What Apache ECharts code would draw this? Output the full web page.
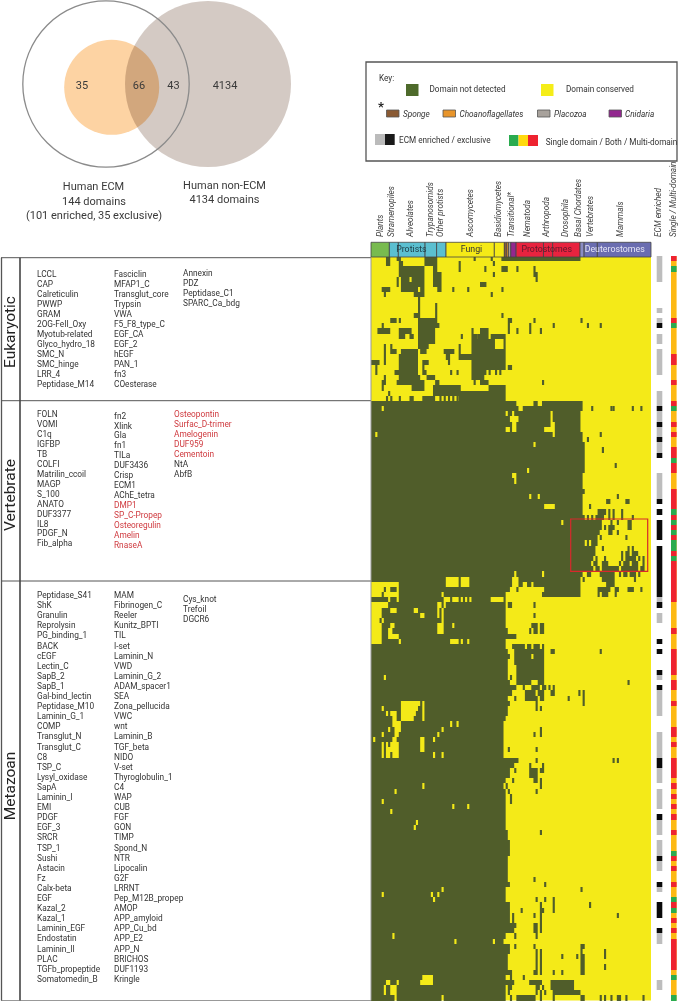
<!DOCTYPE html>
<html><head><meta charset="utf-8">
<style>html,body{margin:0;padding:0;background:#fff}#c{width:680px;height:1002px}</style>
<script src="https://cdn.jsdelivr.net/npm/echarts@6/dist/echarts.min.js"></script>
</head><body><div id="c"></div>
<script>
// ---------- data ----------
const eukaryoticNames = [
 ["LCCL","CAP","Calreticulin","PWWP","GRAM","2OG-FeII_Oxy","Myotub-related","Glyco_hydro_18","SMC_N","SMC_hinge","LRR_4","Peptidase_M14"],
 ["Fasciclin","MFAP1_C","Transglut_core","Trypsin","VWA","F5_F8_type_C","EGF_CA","EGF_2","hEGF","PAN_1","fn3","COesterase"],
 ["Annexin","PDZ","Peptidase_C1","SPARC_Ca_bdg"]];
const vertebrateNames = [
 ["FOLN","VOMI","C1q","IGFBP","TB","COLFI","Matrilin_ccoil","MAGP","S_100","ANATO","DUF3377","IL8","PDGF_N","Fib_alpha"],
 ["fn2","Xlink","Gla","fn1","TILa","DUF3436","Crisp","ECM1","AChE_tetra","DMP1","SP_C-Propep","Osteoregulin","Amelin","RnaseA"],
 ["Osteopontin","Surfac_D-trimer","Amelogenin","DUF959","Cementoin","NtA","AbfB"]];
const redNames = ["DMP1","SP_C-Propep","Osteoregulin","Amelin","RnaseA","Osteopontin","Surfac_D-trimer","Amelogenin","DUF959","Cementoin"];
const metazoanNames = [
 ["Peptidase_S41","ShK","Granulin","Reprolysin","PG_binding_1","BACK","cEGF","Lectin_C","SapB_2","SapB_1","Gal-bind_lectin","Peptidase_M10","Laminin_G_1","COMP","Transglut_N","Transglut_C","C8","TSP_C","Lysyl_oxidase","SapA","Laminin_I","EMI","PDGF","EGF_3","SRCR","TSP_1","Sushi","Astacin","Fz","Calx-beta","EGF","Kazal_2","Kazal_1","Laminin_EGF","Endostatin","Laminin_II","PLAC","TGFb_propeptide","Somatomedin_B"],
 ["MAM","Fibrinogen_C","Reeler","Kunitz_BPTI","TIL","I-set","Laminin_N","VWD","Laminin_G_2","ADAM_spacer1","SEA","Zona_pellucida","VWC","wnt","Laminin_B","TGF_beta","NIDO","V-set","Thyroglobulin_1","C4","WAP","CUB","FGF","GON","TIMP","Spond_N","NTR","Lipocalin","G2F","LRRNT","Pep_M12B_propep","AMOP","APP_amyloid","APP_Cu_bd","APP_E2","APP_N","BRICHOS","DUF1193","Kringle"],
 ["Cys_knot","Trefoil","DGCR6"]];
const taxonLabels = [["Plants",380.7],["Stramenopiles",392.3],["Alveolates",410.7],["Trypanosomids",430.7],["Other protists",441],["Ascomycetes",471],["Basidiomycetes",499.3],["Transitional*",512],["Nematoda",528],["Arthropoda",547.3],["Drosophila",565.7],["Basal Chordates",579],["Vertebrates",590.7],["Mammals",620.7],["ECM enriched",659],["Single / Multi-domain",674]];
// taxon bar: from column, to column, colour
const taxonBar = [[0,8.6,"#78bb4f"],[8.6,12.8,"#5bbfd0"],[12.8,25.3,"#5bbfd0"],[25.3,30.7,"#5bbfd0"],[30.7,35.1,"#5bbfd0"],[35.1,57.7,"#f5ea17"],[57.7,62.4,"#f5ea17"],[62.4,63.5,"#8a5a33"],[63.5,64.3,"#e8952b"],[64.3,65.4,"#a8a29c"],[65.4,67.9,"#92278f"],[67.9,80.7,"#e8233f"],[80.7,85,"#e8233f"],[85,97.8,"#e8233f"],[97.8,99.7,"#8a8cc4"],[99.7,105.9,"#6a6db0"],[105.9,131,"#6a6db0"]];
const taxonBarLabels = [["Protists",18.9,"#20404a"],["Fungi",47,"#333"],["Protostomes",82.2,"#5c1a2c"],["Deuterostomes",114,"#e6e6f5"]];

// columns where the domain was NOT detected, per row, as [from,to] or [single]
const eukaryoticRuns = [
[[7,8],[12,13],[25,30],[48],[56],[61,97]],
[[7,8],[13,14],[25,30],[41],[57]],
[[13,24],[29,30],[41],[53],[61,63],[68],[76]],
[[13,24],[29,32],[57],[76,77]],
[[12],[14,17],[19,24],[29,32],[77]],
[[12],[14,24],[29,32],[51,53]],
[[5,8],[14,21],[23,24],[31,32],[38],[45],[61]],
[[6],[20,24],[56]],
[[22]],
[[22],[30]],
[[22],[30]],
[[20,22],[30],[61]],
[[9,11],[13],[22,30],[64,65],[76],[98]],
[[5],[22,31],[64],[74],[85],[101],[107]],
[[3,8],[13,18],[22,29],[47],[51,54],[64],[68],[74],[79]],
[[13,15],[18,19],[22,29],[42],[47,49],[50,54],[56,62]],
[[22,29],[47,57],[62]],
[[6],[9],[22,26],[41],[47,57],[62]],
[[6],[9,11],[14,21],[23,25],[34,38],[41],[47,62]],
[[6],[13,21],[35,36],[41,62]],
[[0,3],[6],[13,21],[24,26],[36],[47,62]],
[[2],[13,21],[24],[47,62],[64,65]],
[[2],[11,21],[24,25],[37],[40],[47,53],[55],[58],[60]],
[[6],[13,22],[26,29],[47,52]],
[[5,6],[12,24],[30,31],[48],[51,54],[80]],
[[5],[19,24],[29,41],[55,62]],
[[8],[29,62]],
[[7],[9],[13],[18,19],[24,29],[32],[34],[36],[38],[40],[41,62]]
];
const vertebrateRuns = [
[[0,67],[76,77],[80,98]],
[[0,4],[6,68],[71,98],[103],[112],[113],[122],[126]],
[[0,62],[64,65],[67,83],[85,97]],
[[0,64],[69,83],[85,97]],
[[0,65],[68,83],[86,97]],
[[0,62],[65],[68,80],[86,97]],
[[0,1],[3,84],[86,98],[107]],
[[0,98],[101]],
[[0,75],[77,99]],
[[0,99],[108]],
[[0,99]],
[[0,99]],
[[0,99],[114]],
[[0,72],[74,99]],
[[0,65],[68,98]],
[[0,66],[68,98]],
[[0,98]],
[[0,99]],
[[0,73],[75,77],[79,98],[115]],
[[0,98],[110,111],[119,120]],
[[0,80],[86,98],[102]],
[[0,98],[106,109],[111],[113],[117]],
[[0,99],[101],[103],[105,108],[111],[113],[117],[122]],
[[0,88],[90,107],[112],[115],[120,121]],
[[0,107],[109],[111,113],[120,121]],
[[0,106],[111,112],[115]],
[[0,105],[107],[119]],
[[0,99],[101],[103,105]],
[[0,104],[108],[120],[122]],
[[0,104],[117],[119,120],[122,124]],
[[0,103],[105],[109],[117],[119,123],[125],[127]],
[[0,102],[104,105],[108,110],[116],[118,120],[122,124],[127]],
[[0,103],[105,106],[108,115],[117,124],[126,127]],
[[0,66],[68,79],[81,98],[101,102],[107,113],[116],[118,119],[121,123],[125]],
[[0,34],[41],[46,65],[69,97],[99],[108,113],[123]]
];
const metazoanRuns = [
[[13,34],[41],[46,65],[69,70],[73,74],[76,97],[110,113]],
[[6],[9,11],[13,64],[68],[81,97],[106,111],[114,115],[120,122],[126]],
[[5],[13,32],[34,62],[80,97],[106],[108,110],[114]],
[[0,7],[9,11],[13,33],[37],[41],[43],[45],[47,55],[62]],
[[8,30],[33],[35,62],[64,65],[76]],
[[5,8],[12,19],[22,30],[32],[34,62]],
[[5,22],[25,30],[32],[34,62],[76]],
[[4],[6,32],[34,62]],
[[5,8],[11,30],[34,37],[39,62],[75,77],[79,80]],
[[5,7],[10,30],[34,63],[74],[76,77],[79,80]],
[[5,7],[13,67]],
[[5,12],[14,36],[41],[43,44],[46,62]],
[[0,62],[66,71],[73,74],[76,78],[80]],
[[0,63],[67,80],[84,85],[107]],
[[0,64],[67,74],[76,80]],
[[0,63],[67,80]],
[[0,63],[68,80]],
[[0,63],[68,80]],
[[0,5],[7,63],[65],[68,80]],
[[0,64],[68,74],[78,80],[120]],
[[0,67],[71],[75,78],[80,81],[83],[85]],
[[0,65],[72,76],[78,80],[84,85],[97],[99]],
[[0,63],[67],[72,77],[79,80],[92],[99]],
[[0,13],[23],[25,64],[77],[99]],
[[0,4],[6,13],[22,23],[25,63],[77],[79]],
[[0,6],[8],[12,13],[21,23],[25,63]],
[[0,9],[12,13],[20,23],[25,62]],
[[0,9],[14,36],[38,39],[41,61]],
[[0,7],[9,10],[14,32],[34,61],[79]],
[[0,4],[6,10],[13,30],[32,61],[76],[79]],
[[0],[2,9],[12,22],[25,28],[30,61]],
[[0,4],[6],[8],[13,22],[25,61]],
[[0,4],[6],[13,22],[25,61],[64],[77]],
[[0,4],[6],[9],[13,28],[30,32],[34,61]],
[[0,68],[77],[113],[115]],
[[0,66],[74],[80]],
[[0,64],[67],[74,77],[79,80]],
[[0,64],[74,77]],
[[0,62],[66],[76,77],[79]],
[[0,23],[25,61],[63],[79]],
[[0,10],[12,62],[64],[77]],
[[0,62],[65]],
[[0,4],[6,62],[65]],
[[0,37],[39,44],[46,62]],
[[0,8],[10,62]],
[[0,62]],
[[0,20],[22,62]],
[[0,19],[21,62]],
[[0,63],[79]],
[[0,63]],
[[0,64]],
[[0,64]],
[[0,64]],
[[0,63]],
[[0,63]],
[[0,63]],
[[0,63]],
[[0,63],[76]],
[[0,64],[81]],
[[0,32],[34,62],[98]],
[[0,4],[6,27],[29,30],[32,62]],
[[0,28],[30,62],[77],[81],[85]],
[[0,64],[79],[85],[102]],
[[0,64],[70],[79,80],[85]],
[[0,64],[66],[76],[79],[115]],
[[0,64],[66],[79]],
[[0,67],[76,77],[79]],
[[0,66],[76,77],[79]],
[[0,9],[11,62],[67],[77]],
[[0,38],[40,56],[58,61]],
[[0,64],[67],[76],[98,99]],
[[0,64],[77],[79],[98],[109]],
[[0,63],[77],[79],[89],[96],[98,99],[109]],
[[0,63],[77],[79],[98,99]],
[[0,63],[77],[79],[98,99],[109]],
[[0,65],[76,77],[79],[85],[89],[98,99]],
[[0,23],[29,62],[65],[71]],
[[0,6],[9,11],[13,22],[29,66],[74,79],[84,94]],
[[0,5],[7,8],[12,62],[64,65],[77,78],[80],[84,94]],
[[0,5],[7,8],[12,62],[64],[77],[79],[81],[85,97]],
[[0,10],[12,32],[34,62],[65],[68,76],[79],[85],[98,99],[107],[109],[112],[115,116],[119],[127]]
];
// ECM status by row: [status, firstRow, lastRow]; 1 enriched, 2 exclusive, other rows not enriched
const ecmStatus = [[1,0,4],[1,10,10],[1,12,12],[2,13,13],[1,15,16],[1,18,21],[1,22,22],[1,26,28],[2,29,29],[1,30,31],[2,32,32],[1,33,34],[2,35,35],[1,36,37],[2,38,38],[1,42,46],[2,47,47],[2,49,49],[2,51,54],[2,56,65],[1,66,66],[2,67,67],[1,69,70],[2,74,74],[2,76,76],[2,80,80],[1,81,81],[2,83,83],[1,84,88],[1,92,96],[2,97,98],[1,99,101],[1,103,106],[2,108,108],[1,109,111],[1,113,115],[2,116,116],[1,117,118],[2,121,121],[1,122,122],[2,125,127],[2,130,130],[1,131,132],[1,140,141]];
// domain architecture by row: 1 single (green), 3 multi (red), other rows both (amber)
const domainArch = [[3,0,0],[1,2,2],[3,12,12],[1,13,13],[3,19,20],[3,24,24],[3,28,28],[1,29,29],[3,32,32],[3,34,34],[3,37,38],[1,39,39],[3,40,41],[3,45,48],[1,49,49],[3,50,50],[1,51,51],[3,52,52],[1,53,53],[3,54,54],[1,55,56],[3,57,57],[1,58,58],[3,59,66],[3,72,72],[3,76,80],[3,82,83],[3,86,86],[3,91,92],[3,94,94],[3,97,100],[3,102,102],[3,104,104],[3,106,106],[3,108,108],[3,111,111],[1,115,115],[3,116,116],[3,118,118],[3,121,121],[1,124,124],[3,125,125],[1,126,126],[3,128,128],[3,130,130],[3,132,137],[1,139,139],[1,143,143]];
const vennCounts = ["35","66","43","4134"];

// ---------- build ----------
const COLS = 131, ROWS = 144;
const DARK="#505d2a", YEL="#f4ea18", GRAY="#bdbdbd", BLK="#0a0a0a", GRN="#2aab4f", AMB="#fdb913", RED="#ee2330";
const allRuns = eukaryoticRuns.concat(vertebrateRuns, metazoanRuns);
const darkCells = [];
allRuns.forEach((runs,r)=>runs.forEach(run=>darkCells.push([run[0],(run.length>1?run[1]:run[0])+1,r,r+1])));
const ecmCells = ecmStatus.map(s=>[0,1,s[1],s[2]+1,s[0]]);
const archCells = domainArch.map(s=>[0,1,s[1],s[2]+1,s[0]]);
const ecmColor={1:GRAY,2:BLK}, archColor={1:GRN,3:RED};

function cellRender(colorOf){
  return function(p,api){
    const a=api.coord([api.value(0),api.value(2)]),b=api.coord([api.value(1),api.value(3)]);
    const y0=Math.round(a[1]),y1=Math.round(b[1]);
    return {type:'rect',shape:{x:a[0],y:y0,width:b[0]-a[0],height:y1-y0},style:{fill:colorOf(api)}};
  };
}
const TOP=256.1, H=744.5;
const FONT='Roboto,"Open Sans",sans-serif';
const g=[];
function txt(x,y,s,o){o=o||{};g.push({type:'text',x:x,y:y,rotation:o.rot||0,z:o.z||50,silent:true,style:{text:s,fill:o.c||'#333',font:(o.i?'italic ':'')+(o.w?o.w+' ':'')+(o.s||9)+'px '+(o.f||FONT),align:o.a||'left',verticalAlign:'middle'}});}
let o_z=40;
function rect(x,y,w,h,fill,st,lw){g.push({type:'rect',shape:{x:x,y:y,width:w,height:h},z:o_z,silent:true,style:{fill:fill,stroke:st||null,lineWidth:lw||0}});}
function line(x1,y1,x2,y2,c,lw){g.push({type:'line',shape:{x1,y1,x2,y2},z:60,silent:true,style:{stroke:c,lineWidth:lw}});}
// Venn
g.push({type:'circle',shape:{cx:111.7,cy:87.3,r:47.5},z:10,silent:true,style:{fill:'#fdd3a3'}});
g.push({type:'circle',shape:{cx:208,cy:84,r:83},z:11,silent:true,style:{fill:'#d4cac4',blend:'multiply'}});
g.push({type:'circle',shape:{cx:106,cy:84,r:83.2},z:12,silent:true,style:{fill:'none',stroke:'#8b8b8b',lineWidth:1.3}});
[82,139,173.5,225].forEach((x,i)=>txt(x,86,vennCounts[i],{a:'center',s:11,c:'#3a3a3a'}));
txt(93.5,187,"Human ECM",{a:'center',s:11,c:'#3a3a3a'});
txt(94,202,"144 domains",{a:'center',s:11,c:'#3a3a3a'});
txt(94,216,"(101 enriched, 35 exclusive)",{a:'center',s:11,c:'#3a3a3a'});
txt(224.5,186,"Human non-ECM",{a:'center',s:11,c:'#3a3a3a'});
txt(224.5,200.5,"4134 domains",{a:'center',s:11,c:'#3a3a3a'});
// Key
rect(366,62,311,99,'#fff','#555',1.3);
txt(379,79,"Key:",{s:8.2});
rect(406,84,12.5,12,'#4e6a2b');txt(429.5,89.5,"Domain not detected",{s:8.2});
rect(541,84,12.5,12,'#f5ed18');txt(566,89.5,"Domain conserved",{s:8.2});
txt(378,108,"*",{s:13,w:'bold',c:'#222'});
[[386.5,'#8a5a33','Sponge',403],[443,'#e8952b','Choanoflagellates',459.5],[537.5,'#a8a29c','Placozoa',554],[609,'#92278f','Cnidaria',625]].forEach(k=>{rect(k[0],110,12.5,7,k[1],'#555',0.8);txt(k[3],114.5,k[2],{i:1,s:8.2});});
rect(375,134,10,11,'#bbb');rect(385,134,9.7,11,'#1a1a1a');txt(399,141,"ECM enriched / exclusive",{s:8.2});
rect(509,135,9.5,11,GRN);rect(518.5,135,9.5,11,'#ffd90f');rect(528,135,10,11,RED);txt(545.7,143,"Single domain / Both / Multi-domain",{s:8.2});
// Left frame
line(1,257.7,371,257.7,'#555',1);line(1,400.7,371,400.7,'#555',1);line(1,581,371,581,'#555',1);line(1,1000.5,371,1000.5,'#999',1);
line(1.5,257.7,1.5,1000.5,'#555',1.3);line(20,257.7,20,1000.5,'#444',1.6);
line(371,257.7,371,1000.5,'#999',1);
txt(11,332,"Eukaryotic",{rot:Math.PI/2,a:'center',s:15.5,c:'#222'});
txt(11,495,"Vertebrate",{rot:Math.PI/2,a:'center',s:15.5,c:'#222'});
txt(11,786,"Metazoan",{rot:Math.PI/2,a:'center',s:15.5,c:'#222'});
function list(names,x,y,step){names.forEach((n,i)=>txt(x,y+i*step,n,{s:8.3,c:redNames.includes(n)?'#cf3a3f':'#333'}));}
list(eukaryoticNames[0],37,275,9.95);list(eukaryoticNames[1],114,275,9.95);list(eukaryoticNames[2],183,274,9.95);
list(vertebrateNames[0],37,415,9.95);list(vertebrateNames[1],114,416.5,9.95);list(vertebrateNames[2],174,415,9.95);
list(metazoanNames[0],37,596,10.1);list(metazoanNames[1],114,596,10.1);list(metazoanNames[2],183,600,10);
taxonLabels.forEach(t=>txt(t[1],237,t[0],{rot:Math.PI/2,i:1,s:8.2,c:'#444'}));
taxonBarLabels.forEach(t=>txt(371+(t[1]/COLS)*280,250,t[0],{a:'center',s:8.8,c:t[2],z:70}));
// highlight box
g.push({type:'rect',shape:{x:570.7,y:519,width:77,height:52.3},z:65,silent:true,style:{fill:'none',stroke:'#d8282c',lineWidth:1.2}});

const valX=(max)=>({type:'value',min:0,max:max,show:false});
const option={
 animation:false,backgroundColor:'#fff',
 grid:[
  {left:371,top:TOP,width:280,height:H,show:true,backgroundColor:YEL,borderWidth:0},
  {left:656.7,top:TOP,width:5.6,height:H},
  {left:671,top:TOP,width:5.6,height:H,show:true,backgroundColor:AMB,borderWidth:0},
  {left:371,top:242.3,width:280,height:14.7}
 ],
 xAxis:[
  Object.assign(valX(COLS),{gridIndex:0}),
  Object.assign(valX(1),{gridIndex:1}),
  Object.assign(valX(1),{gridIndex:2}),
  Object.assign(valX(COLS),{gridIndex:3})
 ],
 yAxis:[
  {type:'value',gridIndex:0,min:0,max:ROWS,inverse:true,show:false},
  {type:'value',gridIndex:1,min:0,max:ROWS,inverse:true,show:false},
  {type:'value',gridIndex:2,min:0,max:ROWS,inverse:true,show:false},
  {type:'value',gridIndex:3,min:0,max:1,show:false}
 ],
 series:[
  {type:'custom',xAxisIndex:0,yAxisIndex:0,silent:true,data:darkCells,progressive:0,encode:{x:[0,1],y:[2,3]},
   renderItem:cellRender(()=>DARK)},
  {type:'custom',xAxisIndex:1,yAxisIndex:1,silent:true,data:ecmCells,progressive:0,encode:{x:[0,1],y:[2,3]},
   renderItem:cellRender(api=>ecmColor[api.value(4)])},
  {type:'custom',xAxisIndex:2,yAxisIndex:2,silent:true,data:archCells,progressive:0,encode:{x:[0,1],y:[2,3]},
   renderItem:cellRender(api=>archColor[api.value(4)])},
  {type:'custom',xAxisIndex:3,yAxisIndex:3,z:20,silent:true,clip:false,
   data:taxonBar.map(t=>[t[0],t[1]]),
   encode:{x:[0,1]},
   renderItem:function(p,api){
     const a=api.coord([api.value(0),0]),b=api.coord([api.value(1),1]);
     return {type:'rect',shape:{x:a[0],y:b[1],width:b[0]-a[0],height:a[1]-b[1]},style:{fill:taxonBar[p.dataIndex][2],stroke:'#444',lineWidth:0.8}};
   }}
 ],
 graphic:{elements:g}
};
echarts.init(document.getElementById('c'),null,{renderer:'canvas'}).setOption(option);
</script></body></html>
